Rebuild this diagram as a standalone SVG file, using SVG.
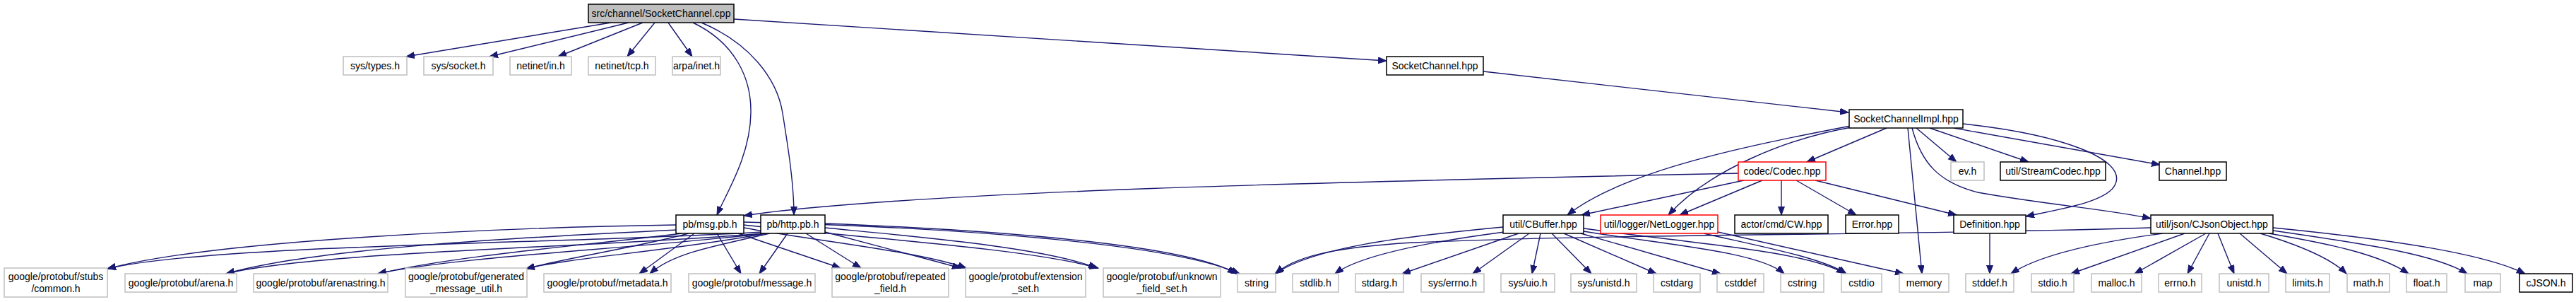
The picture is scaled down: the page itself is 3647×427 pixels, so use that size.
<svg xmlns="http://www.w3.org/2000/svg" width="3647" height="427" viewBox="0 0 3647 427">
<style>
.n rect{fill:#fff;stroke:#bfbfbf;stroke-width:1.5}
.d rect{stroke:#000}
.r rect{stroke:#ff0000}
.root rect{fill:#bfbfbf;stroke:#000}
text{font-family:"Liberation Sans",Arial,sans-serif;font-size:14px;fill:#000;text-anchor:middle}
#edges path{fill:none;stroke:#191970;stroke-width:1.4;marker-end:url(#ah)}
</style>
<defs>
<marker id="ah" markerUnits="userSpaceOnUse" markerWidth="13" markerHeight="10" refX="12" refY="4.5" orient="auto">
<path d="M0,0 L12,4.5 L0,9 z" fill="#191970" stroke="#191970" stroke-width="1"/>
</marker>
</defs>
<rect width="3647" height="427" fill="#fff"/>
<g id="edges">
<path d="M865,32 L575,80"/>
<path d="M890,32 L693,80"/>
<path d="M910,32 L790,80"/>
<path d="M927,32 L888,80"/>
<path d="M946,32 L980,80"/>
<path d="M1039,27 L1963,86"/>
<path d="M981,32 C1040,60 1064,110 1063,160 C1062,220 1030,270 1015,304"/>
<path d="M993,32 C1060,60 1100,110 1108,160 C1116,210 1124,260 1124,304"/>
<path d="M2100,101 L2617,159"/>
<path d="M2671,181 L2558,229"/>
<path d="M2620,178 C2480,205 2300,240 2219,304"/>
<path d="M2621,180 C2530,196 2420,240 2362,304"/>
<path d="M2713,181 L2770,229"/>
<path d="M2732,181 L2872,229"/>
<path d="M2766,181 L3058,233"/>
<path d="M2701,181 L2721,387"/>
<path d="M2779,175 C2920,190 3010,225 2995,260 C2985,285 2920,295 2868,306"/>
<path d="M2707,181 C2720,230 2745,258 2800,272 C2900,290 2980,295 3045,309"/>
<path d="M2461,245 C2000,255 1300,268 1053,305"/>
<path d="M2469,255 L2239,304"/>
<path d="M2495,255 L2378,304"/>
<path d="M2522,255 L2522,304"/>
<path d="M2543,255 L2628,304"/>
<path d="M2570,255 L2770,304"/>
<path d="M957,318 C700,322 300,340 152,380"/>
<path d="M960,325 C750,335 450,350 320,387"/>
<path d="M965,330 C850,345 650,360 535,387"/>
<path d="M975,330 C900,350 800,365 745,380"/>
<path d="M983,330 L905,387"/>
<path d="M1080,328 C800,345 300,345 152,380"/>
<path d="M1080,330 C850,350 450,355 320,387"/>
<path d="M1082,330 C900,352 650,362 535,387"/>
<path d="M1085,330 C950,355 800,365 745,380"/>
<path d="M1090,330 C1000,350 950,360 920,387"/>
<path d="M1015,330 L1049,387"/>
<path d="M1045,330 L1190,379"/>
<path d="M1053,322 C1150,340 1300,355 1368,379"/>
<path d="M1053,318 C1200,335 1450,350 1555,379"/>
<path d="M1053,314 C1300,320 1650,340 1755,387"/>
<path d="M1115,330 L1075,387"/>
<path d="M1141,330 L1219,379"/>
<path d="M1168,328 L1360,379"/>
<path d="M1168,322 C1300,335 1480,350 1553,379"/>
<path d="M1168,316 C1400,325 1680,345 1750,387"/>
<path d="M2128,321 C1980,335 1860,350 1805,387"/>
<path d="M2130,328 C2000,345 1920,365 1890,387"/>
<path d="M2150,330 L1985,387"/>
<path d="M2165,330 L2085,387"/>
<path d="M2181,330 L2169,387"/>
<path d="M2197,330 L2253,387"/>
<path d="M2214,330 L2345,387"/>
<path d="M2238,330 L2436,387"/>
<path d="M2242,327 C2350,345 2490,355 2526,387"/>
<path d="M2242,323 C2400,345 2560,355 2612,387"/>
<path d="M2412,330 C2500,350 2580,365 2614,387"/>
<path d="M2432,328 L2695,387"/>
<path d="M2817,330 L2817,387"/>
<path d="M3045,322 C2700,333 2300,330 2000,343 C1880,350 1830,365 1806,387"/>
<path d="M3062,330 C2950,345 2880,365 2847,387"/>
<path d="M3093,330 L2932,387"/>
<path d="M3123,330 L3022,387"/>
<path d="M3128,330 L3097,387"/>
<path d="M3140,330 L3163,387"/>
<path d="M3171,330 L3238,387"/>
<path d="M3200,330 C3250,345 3300,365 3322,387"/>
<path d="M3212,330 C3300,345 3370,360 3410,387"/>
<path d="M3218,326 C3350,345 3450,360 3493,387"/>
<path d="M3218,322 C3400,340 3520,360 3575,387"/>
</g>
<g id="n_root" class="n root"><rect x="833" y="6" width="206" height="26"/><text x="936" y="24">src/channel/SocketChannel.cpp</text></g>
<g id="n_systypes" class="n"><rect x="486" y="80" width="90" height="26"/><text x="531" y="98">sys/types.h</text></g>
<g id="n_syssocket" class="n"><rect x="600" y="80" width="98" height="26"/><text x="649" y="98">sys/socket.h</text></g>
<g id="n_netinetin" class="n"><rect x="722" y="80" width="87" height="26"/><text x="765.5" y="98">netinet/in.h</text></g>
<g id="n_netinettcp" class="n"><rect x="833" y="80" width="95" height="26"/><text x="880.5" y="98">netinet/tcp.h</text></g>
<g id="n_arpainet" class="n"><rect x="952" y="80" width="68" height="26"/><text x="986" y="98">arpa/inet.h</text></g>
<g id="n_sockchhpp" class="n d"><rect x="1963" y="80" width="137" height="26"/><text x="2031.5" y="98">SocketChannel.hpp</text></g>
<g id="n_impl" class="n d"><rect x="2618" y="155" width="161" height="26"/><text x="2698.5" y="173">SocketChannelImpl.hpp</text></g>
<g id="n_codec" class="n r"><rect x="2461" y="229" width="124" height="26"/><text x="2523" y="247">codec/Codec.hpp</text></g>
<g id="n_evh" class="n"><rect x="2762" y="229" width="47" height="26"/><text x="2785.5" y="247">ev.h</text></g>
<g id="n_streamcodec" class="n d"><rect x="2832" y="229" width="149" height="26"/><text x="2906.5" y="247">util/StreamCodec.hpp</text></g>
<g id="n_channel" class="n d"><rect x="3057" y="229" width="95" height="26"/><text x="3104.5" y="247">Channel.hpp</text></g>
<g id="n_msgpb" class="n d"><rect x="957" y="304" width="96" height="26"/><text x="1005" y="322">pb/msg.pb.h</text></g>
<g id="n_httppb" class="n d"><rect x="1077" y="304" width="91" height="26"/><text x="1122.5" y="322">pb/http.pb.h</text></g>
<g id="n_cbuffer" class="n d"><rect x="2128" y="304" width="114" height="26"/><text x="2185" y="322">util/CBuffer.hpp</text></g>
<g id="n_netlogger" class="n r"><rect x="2266" y="304" width="166" height="26"/><text x="2349" y="322">util/logger/NetLogger.hpp</text></g>
<g id="n_cw" class="n d"><rect x="2456" y="304" width="132" height="26"/><text x="2522" y="322">actor/cmd/CW.hpp</text></g>
<g id="n_error" class="n d"><rect x="2613" y="304" width="75" height="26"/><text x="2650.5" y="322">Error.hpp</text></g>
<g id="n_definition" class="n d"><rect x="2766" y="304" width="102" height="26"/><text x="2817" y="322">Definition.hpp</text></g>
<g id="n_cjsonobject" class="n d"><rect x="3045" y="304" width="173" height="26"/><text x="3131.5" y="322">util/json/CJsonObject.hpp</text></g>
<g id="n_common" class="n"><rect x="6" y="379" width="146" height="41"/><text x="79" y="396">google/protobuf/stubs</text><text x="79" y="413">/common.h</text></g>
<g id="n_arena" class="n"><rect x="177" y="387" width="158" height="26"/><text x="256" y="405">google/protobuf/arena.h</text></g>
<g id="n_arenastring" class="n"><rect x="359" y="387" width="190" height="26"/><text x="454" y="405">google/protobuf/arenastring.h</text></g>
<g id="n_generated" class="n"><rect x="574" y="379" width="172" height="41"/><text x="660" y="396">google/protobuf/generated</text><text x="660" y="413">_message_util.h</text></g>
<g id="n_metadata" class="n"><rect x="770" y="387" width="180" height="26"/><text x="860" y="405">google/protobuf/metadata.h</text></g>
<g id="n_message" class="n"><rect x="975" y="387" width="179" height="26"/><text x="1064.5" y="405">google/protobuf/message.h</text></g>
<g id="n_repeated" class="n"><rect x="1178" y="379" width="165" height="41"/><text x="1260.5" y="396">google/protobuf/repeated</text><text x="1260.5" y="413">_field.h</text></g>
<g id="n_extension" class="n"><rect x="1367" y="379" width="170" height="41"/><text x="1452" y="396">google/protobuf/extension</text><text x="1452" y="413">_set.h</text></g>
<g id="n_unknown" class="n"><rect x="1562" y="379" width="166" height="41"/><text x="1645" y="396">google/protobuf/unknown</text><text x="1645" y="413">_field_set.h</text></g>
<g id="n_string" class="n"><rect x="1752" y="387" width="54" height="26"/><text x="1779" y="405">string</text></g>
<g id="n_stdlib" class="n"><rect x="1830" y="387" width="65" height="26"/><text x="1862.5" y="405">stdlib.h</text></g>
<g id="n_stdarg" class="n"><rect x="1919" y="387" width="68" height="26"/><text x="1953" y="405">stdarg.h</text></g>
<g id="n_syserrno" class="n"><rect x="2012" y="387" width="89" height="26"/><text x="2056.5" y="405">sys/errno.h</text></g>
<g id="n_sysuio" class="n"><rect x="2125" y="387" width="76" height="26"/><text x="2163" y="405">sys/uio.h</text></g>
<g id="n_sysunistd" class="n"><rect x="2224" y="387" width="93" height="26"/><text x="2270.5" y="405">sys/unistd.h</text></g>
<g id="n_cstdarg" class="n"><rect x="2341" y="387" width="66" height="26"/><text x="2374" y="405">cstdarg</text></g>
<g id="n_cstddef" class="n"><rect x="2431" y="387" width="66" height="26"/><text x="2464" y="405">cstddef</text></g>
<g id="n_cstring" class="n"><rect x="2521" y="387" width="61" height="26"/><text x="2551.5" y="405">cstring</text></g>
<g id="n_cstdio" class="n"><rect x="2607" y="387" width="57" height="26"/><text x="2635.5" y="405">cstdio</text></g>
<g id="n_memory" class="n"><rect x="2689" y="387" width="70" height="26"/><text x="2724" y="405">memory</text></g>
<g id="n_stddef" class="n"><rect x="2783" y="387" width="68" height="26"/><text x="2817" y="405">stddef.h</text></g>
<g id="n_stdio" class="n"><rect x="2876" y="387" width="60" height="26"/><text x="2906" y="405">stdio.h</text></g>
<g id="n_malloc" class="n"><rect x="2961" y="387" width="71" height="26"/><text x="2996.5" y="405">malloc.h</text></g>
<g id="n_errno" class="n"><rect x="3056" y="387" width="61" height="26"/><text x="3086.5" y="405">errno.h</text></g>
<g id="n_unistd" class="n"><rect x="3142" y="387" width="70" height="26"/><text x="3177" y="405">unistd.h</text></g>
<g id="n_limits" class="n"><rect x="3236" y="387" width="62" height="26"/><text x="3267" y="405">limits.h</text></g>
<g id="n_math" class="n"><rect x="3323" y="387" width="60" height="26"/><text x="3353" y="405">math.h</text></g>
<g id="n_float" class="n"><rect x="3407" y="387" width="57" height="26"/><text x="3435.5" y="405">float.h</text></g>
<g id="n_map" class="n"><rect x="3490" y="387" width="50" height="26"/><text x="3515" y="405">map</text></g>
<g id="n_cjson" class="n d"><rect x="3567" y="387" width="75" height="26"/><text x="3604.5" y="405">cJSON.h</text></g>
</svg>
